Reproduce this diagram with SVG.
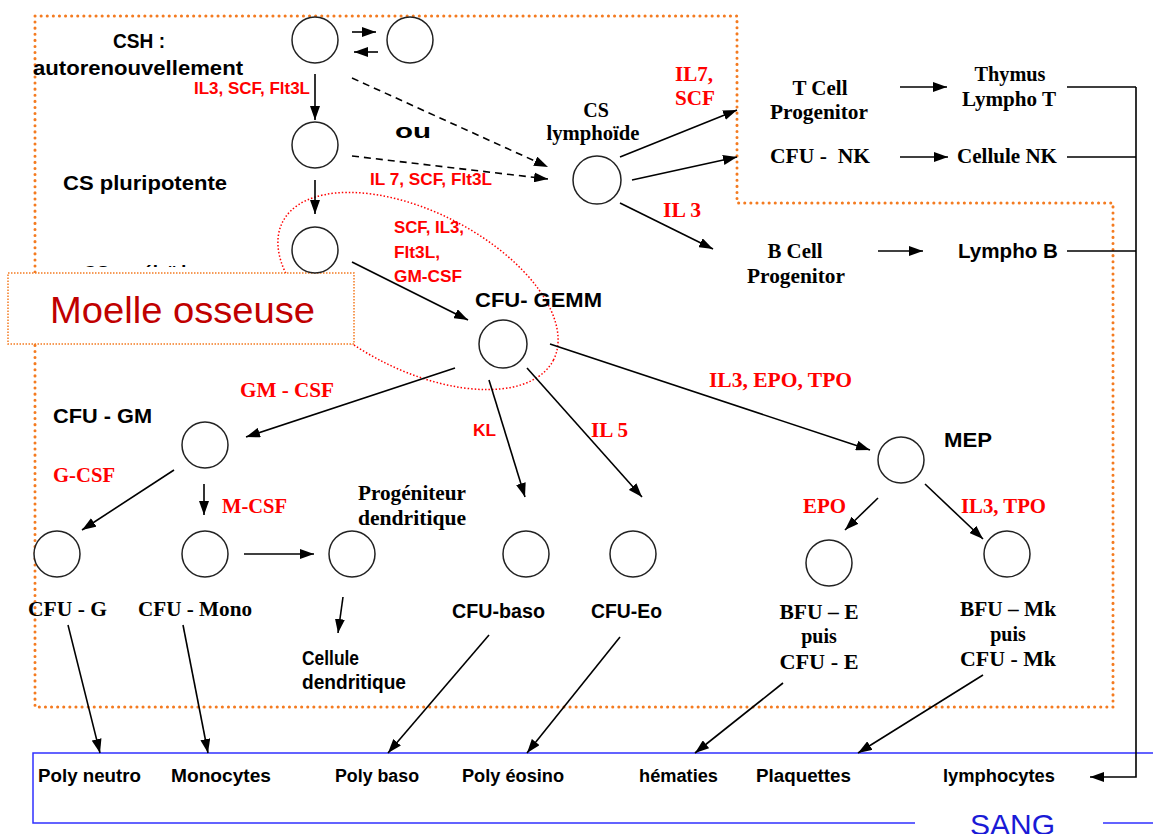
<svg xmlns="http://www.w3.org/2000/svg" width="1153" height="834" viewBox="0 0 1153 834">
<defs>
<style>
.cell{fill:#fff;stroke:#222;stroke-width:1.5}
.ln{fill:none;stroke:#000;stroke-width:1.6}
.arr{fill:none;stroke:#000;stroke-width:1.6;marker-end:url(#ah)}
.dash{fill:none;stroke:#000;stroke-width:1.6;stroke-dasharray:7 5;marker-end:url(#ah)}
.sb{font-family:"Liberation Sans",Arial,sans-serif;font-weight:bold;font-size:20px;fill:#000}
.rs{font-family:"Liberation Sans",Arial,sans-serif;font-weight:bold;font-size:17px;fill:#ff0000}
.tb{font-family:"Liberation Serif","Times New Roman",serif;font-weight:bold;font-size:20px;fill:#000}
.rt{font-family:"Liberation Serif","Times New Roman",serif;font-weight:bold;font-size:20px;fill:#ff0000}
.bl{font-family:"Liberation Sans Narrow","Liberation Sans",Arial,sans-serif;font-weight:bold;font-size:18px;fill:#000}
.dot{fill:none;stroke:#f47b20;stroke-width:3;stroke-linecap:round;stroke-dasharray:0.1 6}
</style>
<marker id="ah" viewBox="0 0 14 10" refX="14" refY="5" markerWidth="14" markerHeight="10" orient="auto" markerUnits="userSpaceOnUse">
<path d="M0,0 L14,5 L0,10 z" fill="#000"/>
</marker>
<clipPath id="cm"><rect x="0" y="250" width="400" height="17"/></clipPath>
</defs>

<g id="zones">
<path class="dot" d="M35,16 L737,16 L737,203 L1113,203 L1113,707 L35,707 Z"/>
<ellipse cx="418" cy="291" rx="152" ry="79" transform="rotate(27 418 291)" fill="none" stroke="#ff0000" stroke-width="1.5" stroke-dasharray="1.5 2"/>
</g>

<g id="sang">
<path d="M1153,753 L33,753 L33,823 L915,823 M1103,823 L1153,823" fill="none" stroke="#3030ff" stroke-width="1.5"/>
<text x="970" y="835" font-family="'Liberation Sans Narrow','Liberation Sans',Arial,sans-serif" font-size="30" fill="#1a1ad6" textLength="85" lengthAdjust="spacingAndGlyphs">SANG</text>
</g>

<g id="connectors">
<path class="arr" d="M352,32 L376,32"/>
<path class="arr" d="M378,52 L354,52"/>
<path class="arr" d="M315,74 L315,120"/>
<path class="arr" d="M315,180 L315,214"/>
<path class="dash" d="M352,78 L548,167"/>
<path class="dash" d="M352,156 L548,179"/>
<path class="arr" d="M620,157 L737,110"/>
<path class="arr" d="M632,180 L737,157"/>
<path class="arr" d="M620,203 L713,249"/>
<path class="arr" d="M900,87 L947,87"/>
<path class="arr" d="M900,157 L948,157"/>
<path class="arr" d="M878,251 L923,251"/>
<path class="ln" d="M1067,87 L1136,87 M1067,157 L1136,157 M1067,251 L1136,251"/>
<path class="arr" d="M1136,87 L1136,777 L1090,777"/>
<path class="arr" d="M352,262 L468,320"/>
<path class="arr" d="M455,368 L246,437"/>
<path class="arr" d="M489,380 L525,497"/>
<path class="arr" d="M527,368 L642,497"/>
<path class="arr" d="M550,344 L870,450"/>
<path class="arr" d="M174,470 L82,530"/>
<path class="arr" d="M204,484 L204,515"/>
<path class="arr" d="M244,554 L314,554"/>
<path class="arr" d="M343,597 L338,633"/>
<path class="arr" d="M878,498 L845,530"/>
<path class="arr" d="M925,484 L983,539"/>
<path class="arr" d="M68,625 L100,753"/>
<path class="arr" d="M183,625 L208,753"/>
<path class="arr" d="M489,635 L388,753"/>
<path class="arr" d="M620,637 L527,753"/>
<path class="arr" d="M783,683 L695,753"/>
<path class="arr" d="M983,675 L858,753"/>
</g>

<g id="moelle">
<text class="sb" x="83" y="280" clip-path="url(#cm)" textLength="114" lengthAdjust="spacingAndGlyphs">CS myéloïde</text>
<rect x="8" y="273" width="346" height="71" fill="#fff" stroke="#f47b20" stroke-width="1.5" stroke-dasharray="1.5 1.5"/>
<text x="50" y="323" font-family="'Liberation Sans',Arial,sans-serif" font-size="36" fill="#c00000" textLength="265" lengthAdjust="spacingAndGlyphs">Moelle osseuse</text>
</g>

<g id="csh">
<circle class="cell" cx="315" cy="40" r="23"/>
<circle class="cell" cx="410" cy="40" r="23"/>
<text class="sb" x="113" y="48" textLength="52" lengthAdjust="spacingAndGlyphs">CSH :</text>
<text class="sb" x="33" y="75" textLength="210" lengthAdjust="spacingAndGlyphs">autorenouvellement</text>
<text class="rs" x="194" y="94" textLength="116" lengthAdjust="spacingAndGlyphs">IL3, SCF, Flt3L</text>
</g>

<g id="cs-pluri">
<circle class="cell" cx="315" cy="145" r="23"/>
<text class="sb" x="63" y="190" textLength="164" lengthAdjust="spacingAndGlyphs">CS pluripotente</text>
<text class="sb" x="395" y="138" textLength="36" lengthAdjust="spacingAndGlyphs">ou</text>
<text class="rs" x="370" y="185" textLength="122" lengthAdjust="spacingAndGlyphs">IL 7, SCF, Flt3L</text>
</g>

<g id="cs-myelo">
<circle class="cell" cx="315" cy="250" r="23"/>
<text class="rs" x="394" y="233" textLength="70" lengthAdjust="spacingAndGlyphs">SCF, IL3,</text>
<text class="rs" x="394" y="258" textLength="46" lengthAdjust="spacingAndGlyphs">Flt3L,</text>
<text class="rs" x="394" y="282" textLength="68" lengthAdjust="spacingAndGlyphs">GM-CSF</text>
</g>

<g id="cs-lympho">
<circle class="cell" cx="597" cy="180" r="24"/>
<text class="tb" x="596" y="117" text-anchor="middle">CS</text>
<text class="tb" x="593" y="140" text-anchor="middle" textLength="93" lengthAdjust="spacingAndGlyphs">lymphoïde</text>
<text class="rt" x="675" y="81" textLength="38" lengthAdjust="spacingAndGlyphs">IL7,</text>
<text class="rt" x="675" y="105" textLength="40" lengthAdjust="spacingAndGlyphs">SCF</text>
<text class="rt" x="663" y="217" textLength="38" lengthAdjust="spacingAndGlyphs">IL 3</text>
</g>

<g id="t-cell">
<text class="tb" x="820" y="95" text-anchor="middle" textLength="55" lengthAdjust="spacingAndGlyphs">T Cell</text>
<text class="tb" x="819" y="119" text-anchor="middle" textLength="98" lengthAdjust="spacingAndGlyphs">Progenitor</text>
</g>
<g id="thymus">
<text class="tb" x="1010" y="81" text-anchor="middle" textLength="71" lengthAdjust="spacingAndGlyphs">Thymus</text>
<text class="tb" x="1009" y="106" text-anchor="middle" textLength="94" lengthAdjust="spacingAndGlyphs">Lympho T</text>
</g>
<g id="cfu-nk">
<text class="tb" x="770" y="163" textLength="100" lengthAdjust="spacingAndGlyphs" xml:space="preserve">CFU -  NK</text>
</g>
<g id="cellule-nk">
<text class="tb" x="957" y="163" textLength="100" lengthAdjust="spacingAndGlyphs">Cellule NK</text>
</g>
<g id="b-cell">
<text class="tb" x="795" y="258" text-anchor="middle" textLength="55" lengthAdjust="spacingAndGlyphs">B Cell</text>
<text class="tb" x="796" y="283" text-anchor="middle" textLength="98" lengthAdjust="spacingAndGlyphs">Progenitor</text>
</g>
<g id="lympho-b">
<text class="sb" x="958" y="258" textLength="100" lengthAdjust="spacingAndGlyphs">Lympho B</text>
</g>

<g id="cfu-gemm">
<circle class="cell" cx="503" cy="344" r="24"/>
<text class="sb" x="475" y="307" textLength="127" lengthAdjust="spacingAndGlyphs">CFU- GEMM</text>
<text class="rt" x="240" y="397" textLength="94" lengthAdjust="spacingAndGlyphs">GM - CSF</text>
<text class="rs" x="473" y="436" textLength="23" lengthAdjust="spacingAndGlyphs">KL</text>
<text class="rt" x="591" y="437" textLength="37" lengthAdjust="spacingAndGlyphs">IL 5</text>
<text class="rt" x="709" y="387" textLength="143" lengthAdjust="spacingAndGlyphs">IL3, EPO, TPO</text>
</g>

<g id="cfu-gm">
<circle class="cell" cx="205" cy="445" r="23"/>
<text class="sb" x="53" y="423" textLength="99" lengthAdjust="spacingAndGlyphs">CFU - GM</text>
<text class="rt" x="53" y="482" textLength="62" lengthAdjust="spacingAndGlyphs">G-CSF</text>
<text class="rt" x="222" y="513" textLength="65" lengthAdjust="spacingAndGlyphs">M-CSF</text>
</g>

<g id="cfu-g">
<circle class="cell" cx="57" cy="554" r="23"/>
<text class="tb" x="28" y="616" textLength="79" lengthAdjust="spacingAndGlyphs">CFU - G</text>
</g>
<g id="cfu-mono">
<circle class="cell" cx="205" cy="554" r="23"/>
<text class="tb" x="138" y="616" textLength="114" lengthAdjust="spacingAndGlyphs">CFU - Mono</text>
</g>
<g id="prog-dendritique">
<circle class="cell" cx="352" cy="554" r="23"/>
<text class="tb" x="358" y="500" textLength="108" lengthAdjust="spacingAndGlyphs">Progéniteur</text>
<text class="tb" x="358" y="525" textLength="108" lengthAdjust="spacingAndGlyphs">dendritique</text>
</g>
<g id="cellule-dendritique">
<text class="sb" x="302" y="665" font-size="19" textLength="57" lengthAdjust="spacingAndGlyphs">Cellule</text>
<text class="sb" x="302" y="689" font-size="19" textLength="104" lengthAdjust="spacingAndGlyphs">dendritique</text>
</g>
<g id="cfu-baso">
<circle class="cell" cx="526" cy="554" r="23"/>
<text class="sb" x="452" y="618" textLength="93" lengthAdjust="spacingAndGlyphs">CFU-baso</text>
</g>
<g id="cfu-eo">
<circle class="cell" cx="633" cy="554" r="23"/>
<text class="sb" x="591" y="618" textLength="71" lengthAdjust="spacingAndGlyphs">CFU-Eo</text>
</g>

<g id="mep">
<circle class="cell" cx="901" cy="460" r="23"/>
<text class="sb" x="944" y="447" textLength="48" lengthAdjust="spacingAndGlyphs">MEP</text>
<text class="rt" x="803" y="513" textLength="43" lengthAdjust="spacingAndGlyphs">EPO</text>
<text class="rt" x="961" y="513" textLength="85" lengthAdjust="spacingAndGlyphs">IL3, TPO</text>
</g>
<g id="bfu-e">
<circle class="cell" cx="829" cy="563" r="23"/>
<text class="tb" x="819" y="619" text-anchor="middle" textLength="79" lengthAdjust="spacingAndGlyphs">BFU – E</text>
<text class="tb" x="819" y="643" text-anchor="middle">puis</text>
<text class="tb" x="819" y="669" text-anchor="middle" textLength="79" lengthAdjust="spacingAndGlyphs">CFU - E</text>
</g>
<g id="bfu-mk">
<circle class="cell" cx="1007" cy="554" r="23"/>
<text class="tb" x="1008" y="616" text-anchor="middle" textLength="96" lengthAdjust="spacingAndGlyphs">BFU – Mk</text>
<text class="tb" x="1008" y="641" text-anchor="middle">puis</text>
<text class="tb" x="1008" y="666" text-anchor="middle" textLength="96" lengthAdjust="spacingAndGlyphs">CFU - Mk</text>
</g>

<g id="blood">
<text class="bl" x="38" y="782" textLength="103" lengthAdjust="spacingAndGlyphs">Poly neutro</text>
<text class="bl" x="171" y="782" textLength="100" lengthAdjust="spacingAndGlyphs">Monocytes</text>
<text class="bl" x="335" y="782" textLength="84" lengthAdjust="spacingAndGlyphs">Poly baso</text>
<text class="bl" x="462" y="782" textLength="102" lengthAdjust="spacingAndGlyphs">Poly éosino</text>
<text class="bl" x="639" y="782" textLength="79" lengthAdjust="spacingAndGlyphs">hématies</text>
<text class="bl" x="756" y="782" textLength="95" lengthAdjust="spacingAndGlyphs">Plaquettes</text>
<text class="bl" x="943" y="782" textLength="112" lengthAdjust="spacingAndGlyphs">lymphocytes</text>
</g>
</svg>
